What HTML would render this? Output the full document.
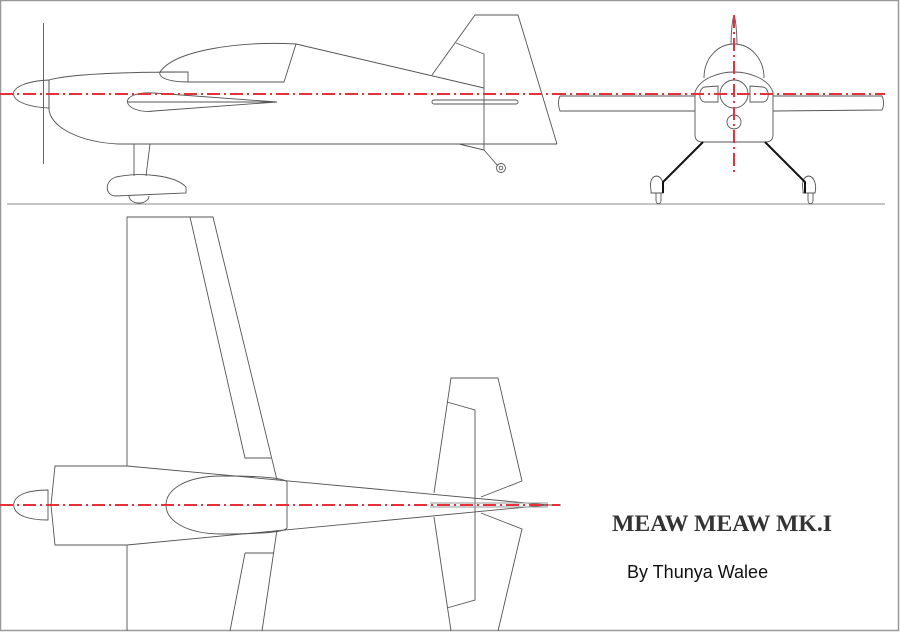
<!DOCTYPE html>
<html><head><meta charset="utf-8"><style>
html,body{margin:0;padding:0;background:#fff;}
svg{display:block;}
</style></head><body>
<svg width="900" height="632" viewBox="0 0 900 632" xmlns="http://www.w3.org/2000/svg">
<rect x="0.5" y="0.5" width="898" height="630" fill="#fff" stroke="#999" stroke-width="1.5"/>
<g fill="none" stroke="#555" stroke-width="0.9">
<!-- SIDE VIEW -->
<line x1="43.5" y1="23" x2="43.5" y2="164"/>
<path d="M49,80 C25,81 13,88 13.5,94 C14,101 27,107 49,108 Z"/>
<path d="M49,80 L49,110 C52,128 80,142 118,144 L557,144"/>
<path d="M49,80 C70,74 120,72 188,72"/>
<path d="M188,82 L188,72 L160,72 C158,78 170,82 188,82 L284,82 L296,44 C240,41 175,50 160,72"/>
<path d="M296,44 L484,88"/>
<path d="M432,75 L475,15 L518,15 L557,144"/>
<path d="M456,43 L484,54 L484,150 L459,144"/>
<path d="M484,150 L498,166"/>
<circle cx="501" cy="168" r="4.5"/><circle cx="501" cy="168" r="1.8"/>
<path d="M277,102 L154,93 C135,92 127,97 127.5,102 C128,107 138,113 154,111 L277,102 Z"/>
<line x1="127.5" y1="102" x2="277" y2="102"/>
<rect x="432" y="100" width="86" height="4" rx="2"/>
<path d="M134,144 L134,176 M150,144 L146,176"/>
<path d="M116,177 C140,172 175,175 186,187 L186,193 L115,196 C105,195 104,181 116,177 Z"/>
<path d="M129,196 A10,7 0 0 0 149,196"/>
<line x1="7" y1="204" x2="885" y2="204" stroke="#888"/>
<!-- FRONT VIEW -->
<path d="M731,44 C731,30 733,16 734,16 C735,16 737,30 737,44"/>
<path d="M704,78 C704,58 718,44 734,44 C750,44 764,58 764,78"/>
<path d="M695,92 C700,78 720,72 734,72 C748,72 768,78 773,92 L773,135 C773,140 770,142 765,142 L703,142 C698,142 695,140 695,135 Z"/>
<path d="M695,96 L560,96 C558,100 558,106 560,111 L695,111"/>
<path d="M773,96 L882,96 C884,100 884,106 882,110 L773,111"/>
<circle cx="734" cy="94" r="14"/>
<circle cx="734" cy="122" r="7"/>
<path d="M718,86 L718,102 L705,102 C698,102 698,88 705,87 Z"/>
<path d="M750,86 L750,102 L763,102 C770,102 770,88 763,87 Z"/>
<path d="M656,193 L656,200 C656,205 661,205 661,200 L661,193 M651,190 C649,180 653,176 657,176 C662,177 665,184 663,193 L651,193 Z"/>
<path d="M808,193 L808,200 C808,205 813,205 813,200 L813,193 M803,190 C801,180 805,176 809,176 C814,177 817,184 815,193 L803,193 Z"/>
<!-- TOP VIEW -->
<path d="M13.7,505 C14,494 30,490 48,490 L48,520 C30,520 14,516 13.7,505 Z"/>
<path d="M127,466 L55,466 L51,505 L55,545 L127,545"/>
<path d="M127,466 L548,505 L561,505 M127,545 L548,505"/>
<path d="M287,482 C285,478 260,476 222,476 C185,476 166,490 166,505 C166,520 185,534 222,534 C260,534 285,532 287,528 Z"/>
<path d="M127,466 L127,217 L213,217 L277,480 M190,217 L245,458 L271,458"/>
<path d="M127,545 L127,631 M262,631 L277,530 M245,553 L274,553 M245,553 L230,631"/>
<path d="M434,493 L451,378 L498,378 L522,481 L481,497"/>
<path d="M447,402 L475,410 L475,600 L447,608"/>
<path d="M434,517 L451,631 M498,631 L522,529 L481,513"/>
<path d="M430,503 L548,503 M430,507 L548,507" stroke="#999"/>
</g>
<g stroke="#111" stroke-width="2" fill="none">
<path d="M703,142 L663,182 L663,193"/>
<path d="M765,142 L805,182 L805,193"/>
</g>
<g stroke="#e8303a" stroke-width="2" stroke-dasharray="13,4,2,4" fill="none">
<line x1="0" y1="94" x2="560" y2="94"/>
<line x1="553" y1="94" x2="885" y2="94"/>
<line x1="734" y1="15" x2="734" y2="175"/>
<line x1="0" y1="505" x2="560" y2="505"/>
</g>
<text x="612" y="531" font-family="Liberation Serif, serif" font-weight="bold" font-size="23" fill="#333" textLength="220" lengthAdjust="spacingAndGlyphs">MEAW MEAW MK.I</text>
<text x="627" y="578" font-family="Liberation Sans, sans-serif" font-size="18" fill="#111">By Thunya Walee</text>
</svg>
</body></html>
